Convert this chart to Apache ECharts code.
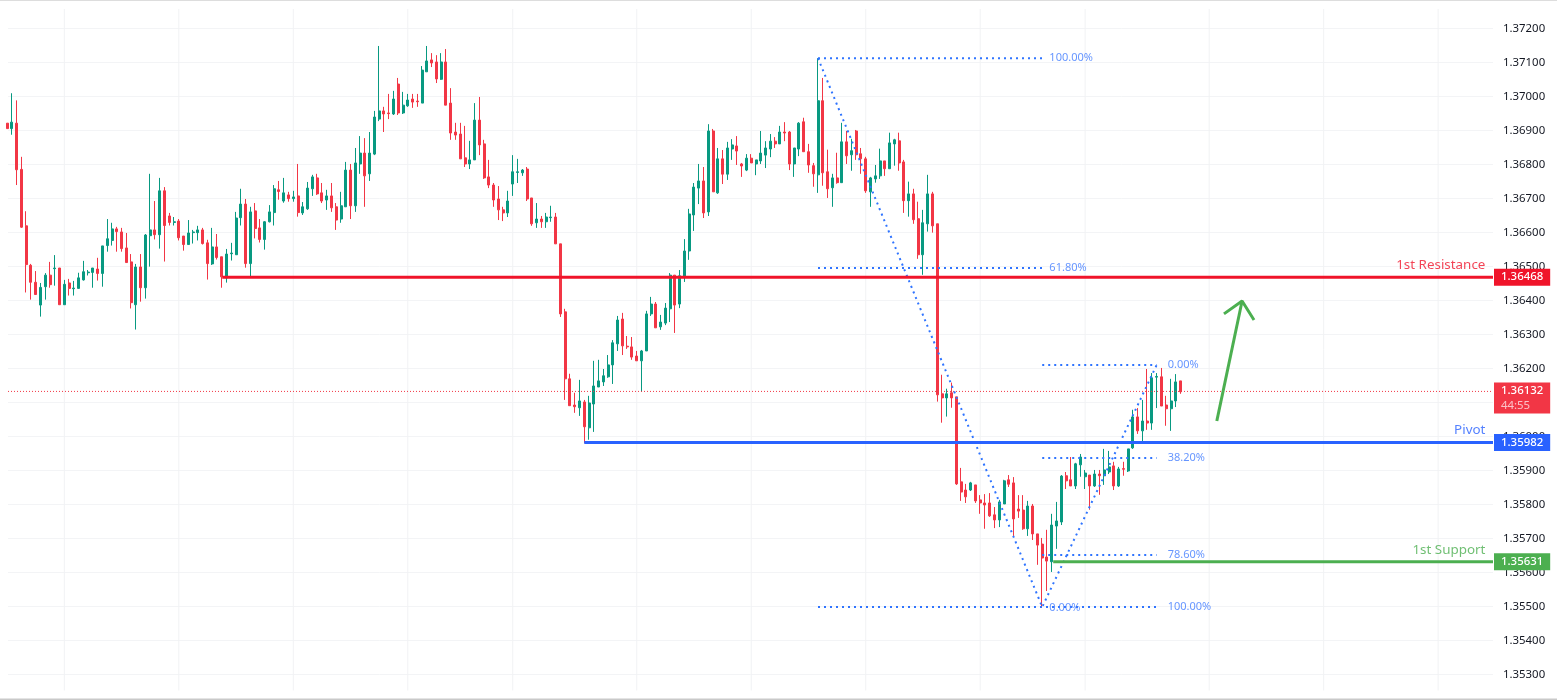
<!DOCTYPE html>
<html><head><meta charset="utf-8">
<style>html,body{margin:0;padding:0;background:#fff}#c{width:1557px;height:700px}</style>
<script src="https://cdn.jsdelivr.net/npm/echarts@6/dist/echarts.min.js"></script>
</head><body><div id="c"></div>
<script>
// candle prices in 1e-5 units
const opens=[136921,136905,136921,136785,136619,136503,136453,136386,136440,136474,
136493,136495,136387,136451,136434,136435,136460,136481,136482,136492,
136479,136561,136576,136610,136601,136554,136513,136387,136498,136437,
136590,136607,136593,136722,136648,136629,136633,136589,136564,136599,
136599,136607,136569,136507,136557,136528,136466,136537,136534,136643,
136683,136508,136663,136613,136579,136631,136658,136725,136692,136710,
136699,136707,136657,136669,136728,136760,136716,136695,136707,136675,
136639,136675,136783,136678,136801,136833,136772,136830,136933,136957,
136951,136948,137036,136951,136972,136992,136986,136980,137072,137107,
137101,137050,137101,136980,136895,136889,136819,136801,136813,136930,
136860,136763,136739,136698,136666,136657,136742,136776,136775,136786,
136701,136628,136639,136631,136643,136645,136566,136366,136169,136092,
136084,136101,136025,136095,136145,136160,136175,136210,136272,136345,
136265,136263,136236,136222,136251,136360,136389,136322,136333,136375,
136474,136389,136469,136545,136651,136730,136751,136660,136898,136716,
136816,136771,136845,136854,136801,136783,136818,136801,136810,136827,
136845,136868,136860,136895,136895,136801,136845,136925,136837,136796,
136769,136987,136778,136731,136760,136746,136866,136828,136898,136831,
136816,136719,136757,136766,136810,136787,136860,136869,136807,136693,
136713,136640,136534,136625,136713,136625,136125,136113,136128,136116,
135866,135842,135842,135857,135813,135804,135804,135769,135754,135801,
135872,135863,135786,135783,135728,135795,135713,135683,135645,135631,
135736,135748,135884,135872,135854,135916,135881,135886,135854,135889,
135884,135895,135913,135854,135905,135898,135966,136057,136016,136045,
136039,136174,136175,136092,136081,136104,136163];
const closes=[136905,136924,136784,136615,136505,136453,136417,136438,136474,136446,
136495,136387,136447,136435,136436,136466,136484,136483,136495,136479,
136560,136581,136610,136602,136552,136511,136393,136498,136437,136592,
136607,136593,136722,136620,136629,136631,136584,136564,136598,136601,
136607,136567,136508,136557,136526,136469,136536,136539,136642,136683,
136508,136660,136611,136579,136631,136660,136728,136720,136716,136699,
136704,136658,136675,136730,136763,136713,136692,136707,136672,136636,
136678,136783,136678,136804,136833,136766,136833,136939,136957,136948,
136949,136992,136951,136974,136989,136983,136984,137077,137104,137098,
137051,137101,136974,136892,136886,136816,136801,136813,136930,136857,
136760,136739,136695,136666,136657,136692,136778,136778,136783,136698,
136625,136639,136631,136645,136645,136566,136360,136169,136090,136087,
136104,136028,136098,136148,136163,136178,136210,136275,136342,136266,
136263,136233,136222,136251,136360,136389,136319,136336,136377,136474,
136386,136472,136545,136654,136733,136751,136657,136898,136719,136816,
136771,136848,136857,136839,136795,136818,136804,136813,136833,136848,
136868,136860,136895,136892,136801,136848,136921,136837,136798,136772,
136987,136775,136728,136760,136746,136866,136825,136840,136828,136816,
136722,136760,136766,136810,136787,136863,136872,136804,136693,136713,
136637,136534,136628,136713,136619,136122,136113,136125,136113,135860,
135836,135822,135863,135810,135804,135798,135766,135754,135807,135869,
135859,135757,135780,135728,135795,135713,135680,135642,135633,135739,
135751,135883,135869,135854,135919,135939,135892,135854,135889,135884,
135901,135910,135854,135904,135903,135963,136057,136016,136045,136039,
136172,136176,136089,136081,136104,136160,136131];
const lows=[136905,136887,136739,136613,136423,136402,136417,136352,136402,136437,
136443,136387,136387,136414,136414,136435,136458,136473,136437,136458,
136440,136543,136561,136543,136543,136511,136376,136314,136396,136405,
136499,136579,136552,136514,136620,136620,136576,136546,136564,136567,
136576,136564,136461,136504,136520,136437,136452,136517,136534,136620,
136496,136467,136582,136570,136549,136629,136620,136696,136687,136690,
136690,136646,136651,136666,136707,136710,136686,136666,136660,136607,
136628,136675,136639,136660,136772,136675,136751,136827,136927,136895,
136933,136945,136945,136948,136969,136966,136969,136980,137072,137086,
137039,137048,136974,136872,136872,136816,136792,136786,136813,136827,
136757,136730,136675,136636,136633,136645,136707,136745,136766,136692,
136619,136613,136613,136613,136631,136566,136351,136107,136090,136069,
136060,135980,135990,136013,136145,136148,136172,136154,136251,136239,
136257,136225,136222,136131,136251,136354,136319,136313,136327,136336,
136304,136377,136454,136519,136604,136683,136642,136648,136719,136713,
136742,136754,136813,136798,136763,136780,136804,136768,136801,136789,
136821,136848,136860,136868,136783,136763,136824,136837,136775,136734,
136716,136737,136701,136675,136743,136746,136801,136781,136813,136772,
136716,136675,136746,136757,136766,136787,136796,136781,136657,136646,
136625,136522,136475,136602,136599,136102,136040,136058,136084,135857,
135810,135804,135839,135804,135772,135728,135763,135730,135733,135801,
135851,135707,135760,135725,135707,135695,135622,135498,135545,135601,
135669,135739,135845,135854,135845,135881,135845,135784,135851,135828,
135857,135889,135842,135851,135884,135895,135963,136007,135984,136019,
136019,136083,136089,136031,136016,136086,136125];
const highs=[136921,137009,136988,136822,136662,136507,136486,136451,136480,136513,
136533,136495,136460,136463,136457,136481,136516,136489,136495,136525,
136560,136639,136628,136616,136613,136598,136536,136507,136536,136595,
136772,136692,136760,136733,136657,136645,136639,136589,136636,136607,
136619,136613,136578,136613,136595,136528,136551,136569,136660,136728,
136698,136675,136686,136639,136633,136680,136739,136751,136760,136719,
136722,136801,136689,136748,136769,136772,136745,136725,136745,136686,
136719,136807,136801,136848,136883,136877,136895,136957,137148,136969,
137007,137016,137054,137013,137007,137007,137007,137089,137148,137127,
137121,137127,137139,137024,136922,136922,136913,136869,136980,136998,
136872,136813,136745,136736,136675,136722,136827,136816,136786,136792,
136701,136686,136648,136657,136678,136657,136566,136375,136184,136128,
136166,136107,136119,136222,136225,136198,136239,136283,136354,136363,
136295,136292,136251,136254,136369,136410,136395,136357,136392,136480,
136474,136489,136580,136669,136745,136801,136792,136918,136904,136848,
136842,136866,136874,136883,136804,136830,136830,136813,136898,136868,
136889,136880,136913,136924,136898,136848,136924,136937,136860,136804,
137112,137054,136843,136772,136834,136922,136898,136875,136901,136848,
136822,136763,136798,136846,136810,136893,136875,136893,136813,136749,
136728,136690,136666,136769,136719,136625,136181,136140,136158,136116,
135907,135860,135866,135857,135827,135830,135833,135792,135813,135872,
135886,135880,135827,135827,135810,135801,135713,135701,135725,135772,
135807,135886,135895,135939,135922,135948,135901,135886,135901,135901,
135963,135957,135925,135910,135925,135963,136078,136083,136107,136198,
136186,136186,136201,136119,136169,136183,136163];
const axisMin=1.353, axisMax=1.372, axisStep=0.001;
const dayStarts=[12,36,60,84,106,132,156,180,204,226,252,276,300];
const lastPrice=1.36132, countdown='44:55';
const levelNames=['1st Resistance','Pivot','1st Support'];
const levelPrices=[1.36468,1.35982,1.35631];
const levelFrom=[45.1,121,219.3];
const levelColors=['#f0142a','#2962ff','#4caf50'];
const fibLines=[
 [[170,1.37112],[217,1.37112]],
 [[170,1.36495],[217,1.36495]],
 [[170,1.35498],[241,1.35498]],
 [[217,1.3621],[241,1.3621]],
 [[217,1.35936],[241,1.35936]],
 [[217,1.35651],[241,1.35651]],
 [[170,1.37112],[217,1.35498],[241,1.3621]]
];
const fibTexts=[
 [218.5,1.37112,'100.00%'],[218.5,1.36495,'61.80%'],[243.3,1.3621,'0.00%'],
 [243.3,1.35936,'38.20%'],[243.3,1.35651,'78.60%'],[243.3,1.35498,'100.00%'],[218.5,1.35495,'0.00%']
];
const arrowX=[253.6,258.9], arrowY=[1.36045,1.36398];
const arrowHead=[[255.1,1.3636],[258.9,1.36398],[261.4,1.36342]];
const xMin=0.19,xMax=311.5,levelEnd=311.5;
const FONT='"Noto Sans",sans-serif';

const candles=opens.map((o,i)=>[i,o/1e5,closes[i]/1e5,lows[i]/1e5,highs[i]/1e5]);
const plain={type:'line',showSymbol:false,silent:true,symbol:'none'};
const series=[];
dayStarts.forEach(x=>series.push({...plain,xAxisIndex:1,yAxisIndex:1,z:1,data:[[x,0],[x,1]],lineStyle:{color:'#f1f2f4',width:1}}));
series.push({
  type:'candlestick',data:candles,barWidth:2.5,z:3,silent:true,
  itemStyle:{color:'#089981',color0:'#f23645',borderColor:'#089981',borderColor0:'#f23645',borderWidth:1}
});
series.push({...plain,z:4,data:[[xMin,lastPrice],[levelEnd,lastPrice]],
  lineStyle:{color:'#f23645',width:1,type:[1,2]},
  endLabel:{show:true,distance:1,offset:[0,6.5],formatter:()=>'{a|'+lastPrice.toFixed(5)+'}\n{b|'+countdown+'}',
    backgroundColor:'#f23645',padding:[1,7,0,7],fontFamily:FONT,
    rich:{a:{color:'#fff',fontSize:11.4,fontFamily:FONT,lineHeight:15,fontWeight:500},b:{color:'#fbc1c7',fontSize:11.4,fontFamily:FONT,lineHeight:15}}}});
fibLines.forEach(d=>series.push({...plain,z:5,data:d,lineStyle:{color:'#2f74ff',width:2,type:[2,4]}}));
levelPrices.forEach((p,i)=>{
  series.push({...plain,z:6,data:[[levelFrom[i],p],[levelEnd,p]],lineStyle:{color:levelColors[i],width:3},
    endLabel:{show:true,distance:1,formatter:()=>p.toFixed(5),color:'#fff',fontSize:11.4,fontFamily:FONT,fontWeight:500,
      backgroundColor:levelColors[i],padding:[3,7,3,7],lineHeight:11}});
});
series.push({type:'scatter',silent:true,symbolSize:0,z:7,clip:false,
  data:levelPrices.map((p,i)=>({value:[309.9,p],label:{show:true,position:'left',distance:0,offset:[0,-12],formatter:levelNames[i],color:levelColors[i],fontSize:13.4,fontFamily:FONT}}))});
series.push({type:'scatter',silent:true,symbolSize:0,z:7,
  data:fibTexts.map(t=>({value:[t[0],t[1]],label:{show:true,position:'right',distance:0,formatter:t[2],color:'#3f7bff',fontSize:11,fontFamily:FONT}}))});
series.push({...plain,z:8,data:arrowX.map((x,i)=>[x,arrowY[i]]),lineStyle:{color:'#4caf50',width:3}});
series.push({...plain,z:8,data:arrowHead,lineStyle:{color:'#4caf50',width:3}});

const chart=echarts.init(document.getElementById('c'),null,{renderer:'canvas'});
const hiddenX={type:'value',min:xMin,max:xMax,axisLine:{show:false},axisTick:{show:false},axisLabel:{show:false},splitLine:{show:false}};
chart.setOption({
  animation:false,backgroundColor:'#fff',
  grid:[{left:8,right:64,top:28.3,bottom:25.7},{left:8,right:64,top:9,bottom:9.5}],
  xAxis:[hiddenX,{...hiddenX,gridIndex:1}],
  yAxis:[{type:'value',position:'right',min:axisMin,max:axisMax,interval:axisStep,scale:true,
    axisLine:{show:false},axisTick:{show:false},
    axisLabel:{margin:10,color:'#131722',fontSize:11.4,fontFamily:FONT,formatter:v=>v.toFixed(5)},
    splitLine:{show:true,lineStyle:{color:'#f3f4f6',width:1}}},
   {type:'value',gridIndex:1,min:0,max:1,show:false,splitLine:{show:false}}],
  series,
  graphic:[
   {type:'rect',silent:true,shape:{x:0,y:698.5,width:1557,height:1.5},style:{fill:'#c9c9c9'}},
   {type:'rect',silent:true,shape:{x:0,y:0,width:1557,height:1},style:{fill:'#dddddd'}}
  ]
});
</script></body></html>
